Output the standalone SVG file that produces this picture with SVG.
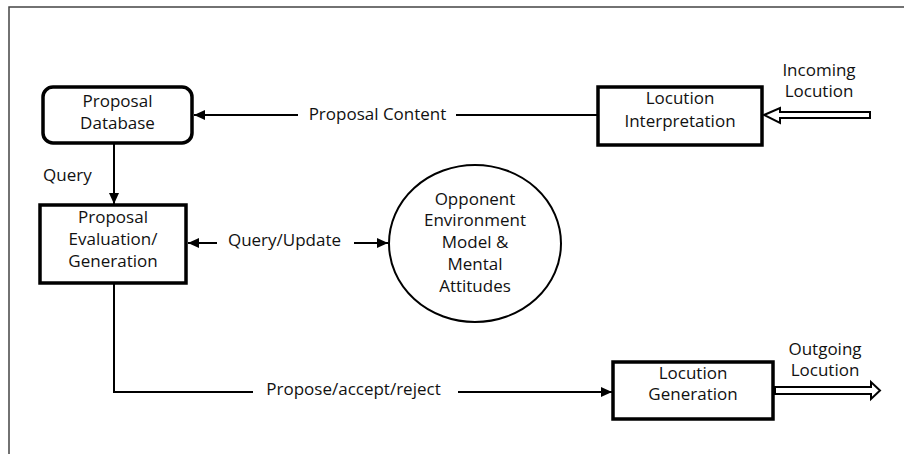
<svg xmlns="http://www.w3.org/2000/svg" width="904" height="454" viewBox="0 0 904 454">
<style>
text{font-family:"Open Sans","Liberation Sans",sans-serif;font-size:17px;fill:#111;text-anchor:middle}
.box{fill:#fff;stroke:#000;stroke-width:3.5}
.con{fill:none;stroke:#000;stroke-width:2}
.hollow{fill:#fff;stroke:#000;stroke-width:2;stroke-linejoin:miter}
</style>
<defs>
<marker id="ah" markerUnits="userSpaceOnUse" markerWidth="11" markerHeight="10" refX="11" refY="5" orient="auto">
<path d="M0,0 L11,5 L0,10 z" fill="#000"/>
</marker>
</defs>
<path d="M9,454 V7 H904" fill="none" stroke="#444" stroke-width="1.5"/>
<g id="connectors">
<path class="con" d="M114,144 V204" marker-end="url(#ah)"/>
<text x="43" y="181" style="text-anchor:start">Query</text>
<path class="con" d="M597,115 H456"/>
<path class="con" d="M298,115 H194" marker-end="url(#ah)"/>
<text x="377.5" y="120">Proposal Content</text>
<path class="con" d="M217,243 H188" marker-end="url(#ah)"/>
<path class="con" d="M354,243 H388" marker-end="url(#ah)"/>
<text x="284.5" y="246">Query/Update</text>
<path class="con" d="M114,284 V392 H253"/>
<path class="con" d="M458,392 H612" marker-end="url(#ah)"/>
<text x="353.5" y="395">Propose/accept/reject</text>
<path class="hollow" d="M764,115 L780,108 L780,112 L870,112 L870,118 L780,118 L780,123 Z"/>
<path class="hollow" d="M775,387 L871,387 L871,382 L880,390.5 L871,399 L871,394 L775,394 Z"/>
</g>
<g id="proposal-database">
<rect class="box" x="43" y="87" width="149" height="56" rx="10"/>
<text x="117.5" y="107">Proposal</text>
<text x="117.5" y="129">Database</text>
</g>
<g id="proposal-evaluation">
<rect class="box" x="40" y="205" width="146" height="78"/>
<text x="113" y="223">Proposal</text>
<text x="113" y="245">Evaluation/</text>
<text x="113" y="267">Generation</text>
</g>
<g id="locution-interpretation">
<rect class="box" x="598" y="87" width="164" height="58"/>
<text x="680" y="104">Locution</text>
<text x="680" y="127">Interpretation</text>
</g>
<g id="incoming-label">
<text x="819" y="76">Incoming</text>
<text x="819" y="97">Locution</text>
</g>
<g id="opponent-model">
<ellipse cx="475" cy="243.5" rx="86" ry="78.5" fill="#fff" stroke="#000" stroke-width="2"/>
<text x="475" y="205">Opponent</text>
<text x="475" y="226">Environment</text>
<text x="475" y="248">Model &amp;</text>
<text x="475" y="270">Mental</text>
<text x="475" y="292">Attitudes</text>
</g>
<g id="locution-generation">
<rect class="box" x="613" y="362" width="160" height="57"/>
<text x="693" y="379">Locution</text>
<text x="693" y="400">Generation</text>
</g>
<g id="outgoing-label">
<text x="825" y="355">Outgoing</text>
<text x="825" y="376">Locution</text>
</g>
</svg>
